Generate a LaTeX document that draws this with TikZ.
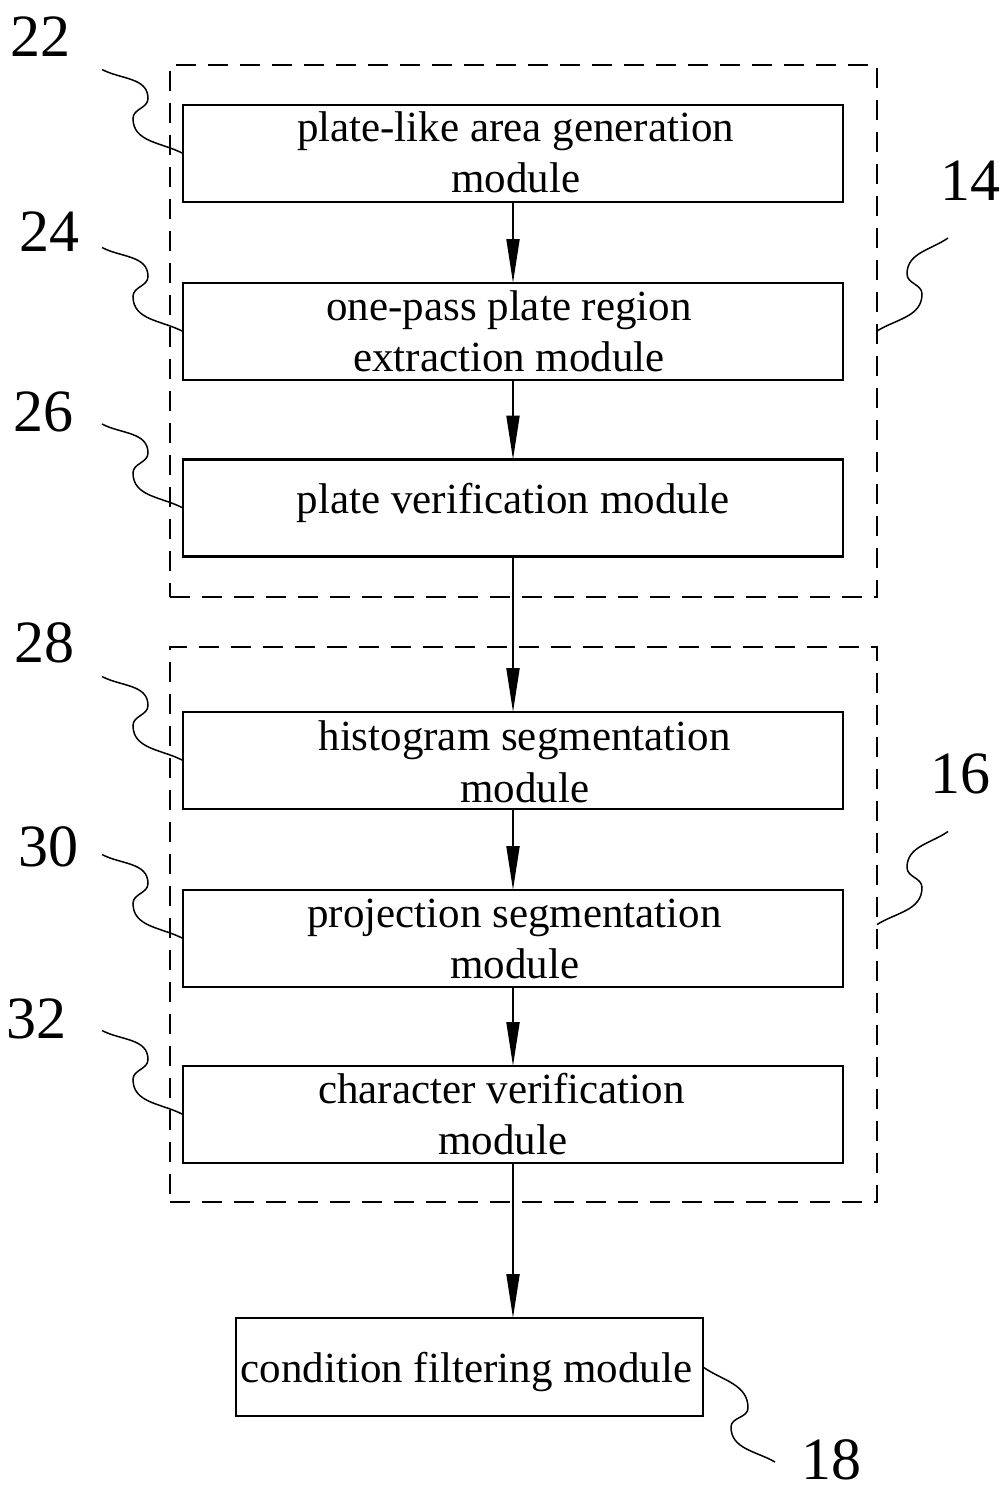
\documentclass[tikz,border=0pt]{standalone}
\usepackage{fontspec}
\setmainfont{Liberation Serif}
\usetikzlibrary{arrows.meta}
\begin{document}
\begin{tikzpicture}[x=1pt,y=-1pt,
  modbox/.style={draw,line width=2.2pt,rectangle,inner sep=0pt,outer sep=0pt,minimum width=660pt,minimum height=97pt},
  groupbox/.style={draw,line width=2pt,rectangle,inner sep=0pt,outer sep=0pt,dash pattern=on 20pt off 12pt,minimum width=707pt},
  txt/.style={anchor=base,inner sep=0pt,font=\fontsize{43}{50}\selectfont},
  refnum/.style={anchor=base,inner sep=0pt,font=\fontsize{60}{60}\selectfont},
  flow/.style={line width=2pt,-{Triangle[length=44pt,width=13pt]}},
  leader/.style={line width=1.5pt}
]
\useasboundingbox (0,0) rectangle (1002,1493);
% group boxes
\node[groupbox,minimum height=532pt] (d14) at (523.5,331) {};
\node[groupbox,minimum height=555pt] (d16) at (523.5,924.5) {};
% module boxes
\node[modbox] (b22) at (513,153.5) {};
\node[modbox] (b24) at (513,331.5) {};
\node[modbox] (b26) at (513,508) {};
\node[modbox] (b28) at (513,760.5) {};
\node[modbox] (b30) at (513,938.5) {};
\node[modbox] (b32) at (513,1114.5) {};
\node[modbox,minimum width=467pt,minimum height=98pt] (b18) at (469.5,1367) {};
% texts
\node[txt] (t22a) at (515.5,142) {plate-like area generation};
\node[txt] (t22b) at (516,192) {module};
\node[txt] (t24a) at (509,320) {one-pass plate region};
\node[txt] (t24b) at (509,371) {extraction module};
\node[txt] (t26a) at (513,513) {plate verification module};
\node[txt] (t28a) at (524.5,750) {histogram segmentation};
\node[txt] (t28b) at (525,802) {module};
\node[txt] (t30a) at (514.5,927) {projection segmentation};
\node[txt] (t30b) at (515,978) {module};
\node[txt] (t32a) at (501.5,1103) {character verification};
\node[txt] (t32b) at (503,1154) {module};
\node[txt] (t18a) at (466.5,1382) {condition filtering module};
% arrows
\draw[flow] (b22.south) -- (b24.north);
\draw[flow] (b24.south) -- (b26.north);
\draw[flow] (b26.south) -- (b28.north);
\draw[flow] (b28.south) -- (b30.north);
\draw[flow] (b30.south) -- (b32.north);
\draw[flow] (b32.south) -- (b32.south |- b18.north);
% reference numerals
\node[refnum] (n22) at (40,57) {22};
\node[refnum] (n24) at (49.5,251) {24};
\node[refnum] (n26) at (43.5,431) {26};
\node[refnum] (n28) at (44.5,662) {28};
\node[refnum] (n30) at (48,866) {30};
\node[refnum] (n32) at (36.5,1038) {32};
\node[refnum] (n14) at (970,200) {14};
\node[refnum] (n16) at (960,793) {16};
\node[refnum] (n18) at (831.5,1479) {18};
% leader lines (left)
\foreach \b in {b22,b24,b26,b28,b30,b32}{
  \coordinate (s\b) at ([shift={(-81,-84)}]\b.west);
  \draw[leader] (s\b) to[out=-28,in=90] ++(46,29) to[out=-90,in=90] ++(-15,20) to[out=-90,in=152] (\b.west);
}
% leader lines (right)
\foreach \d in {d14,d16}{
  \coordinate (e\d) at ([shift={(71,-93)}]\d.east);
  \draw[leader] (\d.east) to[out=32,in=-90] ++(45,-37) to[out=90,in=-90] ++(-15,-20) to[out=90,in=-145] (e\d);
}
\coordinate (e18) at ([shift={(72,95)}]b18.east);
\draw[leader] (b18.east) to[out=-35,in=90] ++(45,41) to[out=-90,in=90] ++(-17,19) to[out=-90,in=150] (e18);
\end{tikzpicture}
\end{document}
